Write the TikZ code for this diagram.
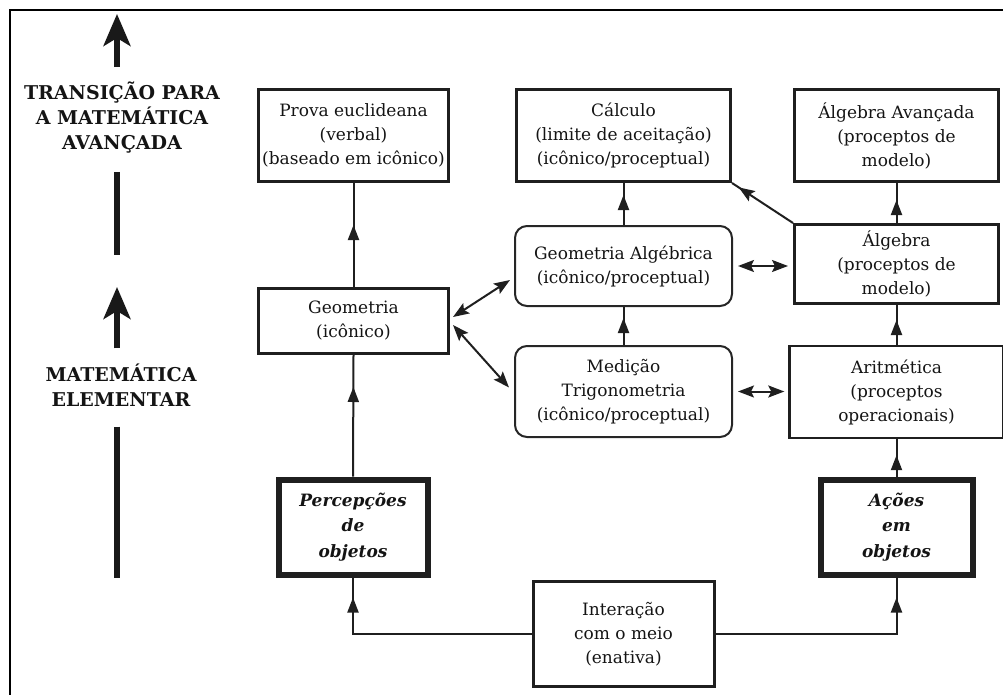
\documentclass[tikz,border=0pt]{standalone}
\usepackage{fontspec}
\setmainfont{DejaVu Serif}
\usetikzlibrary{arrows.meta,decorations.markings,calc}
\begin{document}
\begin{tikzpicture}[x=1pt,y=-1pt,
  every node/.style={inner sep=0pt, align=center, text=black!92, font=\fontsize{17}{24}\selectfont},
  box/.style={draw=black!88, line width=3pt},
  rbox/.style={draw=black!85, line width=2pt, rounded corners=12pt},
  hbox/.style={draw=black!88, line width=6pt, font=\fontsize{17}{25.5}\selectfont\bfseries\itshape},
  conn/.style={draw=black!88, line width=2pt},
  tipat/.style={postaction={decorate}, decoration={markings, mark=at position #1 with {\arrow{Triangle[length=15pt,width=11pt]}}}},
  stipat/.style={postaction={decorate}, decoration={markings, mark=at position #1 with {\arrow{Stealth[length=16pt,width=12pt,inset=3pt]}}}},
  dbl/.style={draw=black!88, line width=2pt, {Stealth[length=16pt,width=12pt,inset=3pt]}-{Stealth[length=16pt,width=12pt,inset=3pt]}},
  lbl/.style={font=\fontsize{19}{25}\selectfont\bfseries},
  big/.style={draw=black!90, line width=5.5pt, -{Stealth[length=32pt,width=27pt,inset=8pt]}},
  shaft/.style={draw=black!90, line width=5.5pt}
]
\useasboundingbox (0,0) rectangle (1003,695);
% frame
\draw[line width=2.6pt] (10,700) -- (10,10);
\draw[line width=1.5pt] (9,10) -- (1010,10);

% left labels
\node[lbl] (lblA) at (122,118) {TRANSIÇÃO PARA\\A MATEMÁTICA\\AVANÇADA};
\node[lbl] (lblB) at (121,385) {MATEMÁTICA\\ELEMENTAR};
\coordinate (tipA) at (117,14);
\coordinate (endA) at (117,255);
\coordinate (tipB) at (117,287);
\coordinate (endB) at (117,578);
\draw[big] ($(lblA.north -| tipA)+(0,-15)$) -- (tipA);
\draw[shaft] ($(lblA.south -| tipA)+(0,18)$) -- (endA);
\draw[big] ($(lblB.north -| tipB)+(0,-15)$) -- (tipB);
\draw[shaft] ($(lblB.south -| tipB)+(0,20)$) -- (endB);

% boxes
\node[box, minimum width=190pt, minimum height=92pt] (prova) at (353.5,135.5) {Prova euclideana\\(verbal)\\(baseado em icônico)};
\node[box, minimum width=214pt, minimum height=92pt] (calc) at (623.5,135.5) {Cálculo\\(limite de aceitação)\\(icônico/proceptual)};
\node[box, minimum width=204pt, minimum height=92pt] (algav) at (896.5,135.5) {Álgebra Avançada\\(proceptos de\\modelo)};
\node[box, minimum width=190pt, minimum height=65pt] (geo) at (353.5,321) {Geometria\\(icônico)};
\node[rbox, minimum width=217pt, minimum height=80pt] (geoalg) at (623.5,266) {Geometria Algébrica\\(icônico/proceptual)};
\node[rbox, minimum width=217pt, minimum height=91pt] (med) at (623.5,391.5) {Medição\\Trigonometria\\(icônico/proceptual)};
\node[box, minimum width=204pt, minimum height=79pt] (alg) at (896.5,264) {Álgebra\\(proceptos de\\modelo)};
\node[box, line width=2.4pt, minimum width=214pt, minimum height=92pt] (arit) at (896.5,392) {Aritmética\\(proceptos\\operacionais)};
\node[hbox, minimum width=149pt, minimum height=95pt] (perc) at (353,527) {Percepções\\de\\objetos};
\node[hbox, minimum width=152pt, minimum height=95pt] (acoes) at (896.5,527) {Ações\\em\\objetos};
\node[box, minimum width=181pt, minimum height=105pt] (inter) at (623.5,634) {Interação\\com o meio\\(enativa)};

% vertical connectors
\draw[conn, tipat=-42pt] (geo.north) -- (prova.south);
\draw[conn, tipat=-32pt] (perc.north) -- (geo.south);
\draw[conn, tipat=-12pt] (geoalg.north) -- (calc.south);
\draw[conn, tipat=-11pt] (med.north) -- (geoalg.south);
\draw[conn, tipat=-17pt] (alg.north) -- (algav.south);
\draw[conn, tipat=-15pt] (arit.north) -- (alg.south);
\draw[conn, tipat=-16pt] (acoes.north) -- (arit.south);
\draw[conn, tipat=-20pt] (inter.west) -| (perc.south);
\draw[conn, tipat=-20pt] (inter.east) -| (acoes.south);
\draw[conn, stipat=-8pt] (alg.north west) -- (calc.south east);

% double arrows
\draw[dbl] ($(geo.east)+(3,-4)$) -- ($(geoalg.west)+(-4,14)$);
\draw[dbl] ($(geo.east)+(3,4)$) -- ($(med.west)+(-5,-4)$);
\draw[dbl] ($(geoalg.east)+(5,0)$) -- ($(geoalg.east -| alg.west)+(-5,0)$);
\draw[dbl] ($(med.east)+(5,0)$) -- ($(med.east -| arit.west)+(-4,0)$);
\end{tikzpicture}
\end{document}
